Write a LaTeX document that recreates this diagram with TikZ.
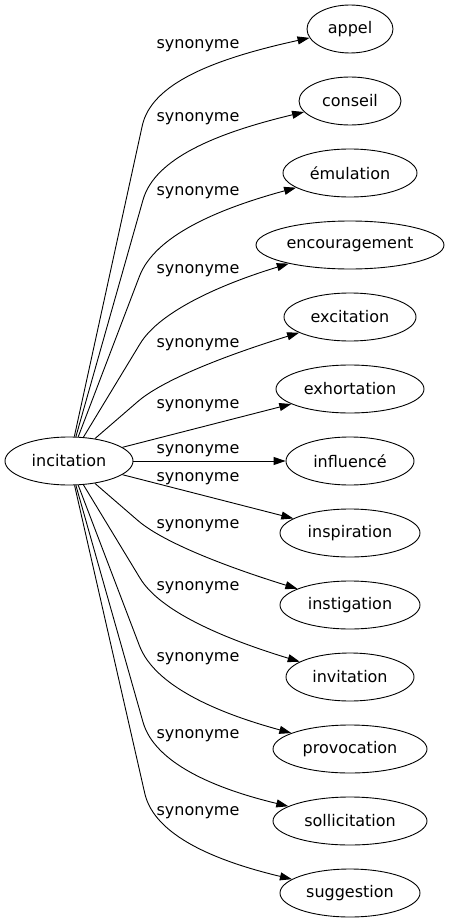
\documentclass[tikz,border=0pt]{standalone}
\usepackage{fontspec}
\setmainfont{DejaVu Sans}
\usetikzlibrary{shapes.geometric,arrows.meta,calc}

\begin{document}
\begin{tikzpicture}
            [x=1pt,y=-1pt,line width=0.9pt,
             word/.style={ellipse,draw,minimum height=48pt,inner sep=0pt},
             syn/.style={inner sep=0pt},
             edge/.style={-{Triangle[length=12pt,width=8pt]}},
             font=\fontsize{16}{19}\selectfont]
            \useasboundingbox (0,0) rectangle (449,923);
            \node[word,minimum width=128pt] (inc) at (69,461) {incitation};
            \node[word,minimum width=86pt] (appel) at (350,29) {appel};
            \node[word,minimum width=102pt] (cons) at (350,101) {conseil};
            \node[word,minimum width=134pt] (emul) at (350,173) {émulation};
            \node[word,minimum width=188pt] (enc) at (350,245) {encouragement};
            \node[word,minimum width=132pt] (exc) at (350,317) {excitation};
            \node[word,minimum width=148pt] (exh) at (350,389) {exhortation};
            \node[word,minimum width=128pt] (infl) at (350,461) {influencé};
            \node[word,minimum width=140pt] (insp) at (350,533) {inspiration};
            \node[word,minimum width=140pt] (inst) at (350,605) {instigation};
            \node[word,minimum width=128pt] (inv) at (350,677) {invitation};
            \node[word,minimum width=154pt] (prov) at (350,749) {provocation};
            \node[word,minimum width=154pt] (soll) at (350,821) {sollicitation};
            \node[word,minimum width=140pt] (sugg) at (350,893) {suggestion};
            % the labels
            \node[syn] (l1) at (198,46) {synonyme};
            \node[syn] (l2) at (198,119) {synonyme};
            \node[syn] (l3) at (198,193) {synonyme};
            \node[syn] (l4) at (198,271) {synonyme};
            \node[syn] (l5) at (198,345) {synonyme};
            \node[syn] (l6) at (198,406) {synonyme};
            \node[syn] (l7) at (198,451) {synonyme};
            \node[syn] (l8) at (198,479) {synonyme};
            \node[syn] (l9) at (198,526) {synonyme};
            \node[syn] (l10) at (198,588) {synonyme};
            \node[syn] (l11) at (198,659) {synonyme};
            \node[syn] (l12) at (198,736) {synonyme};
            \node[syn] (l13) at (198,813) {synonyme};
            % bends of the edges
            \coordinate (k1) at (154,72);
            \coordinate (k2) at (158,147);
            \coordinate (k3) at (159,225);
            \coordinate (k4) at (166,301);
            \coordinate (k5) at (172,372);
            \coordinate (k9) at (172,550);
            \coordinate (k10) at (166,621);
            \coordinate (k11) at (159,697);
            \coordinate (k12) at (158,775);
            \coordinate (k13) at (157,847);
            % the edges
            \draw[edge] (inc) -- ($(k1)!55pt!(inc)$) .. controls ($(k1)!12pt!(inc)$) and ($(k1)!0.3!(appel)$) .. (appel);
            \draw[edge] (inc) -- ($(k2)!55pt!(inc)$) .. controls ($(k2)!12pt!(inc)$) and ($(k2)!0.3!(cons)$) .. (cons);
            \draw[edge] (inc) -- ($(k3)!55pt!(inc)$) .. controls ($(k3)!12pt!(inc)$) and ($(k3)!0.3!(emul)$) .. (emul);
            \draw[edge] (inc) -- ($(k4)!50pt!(inc)$) .. controls ($(k4)!12pt!(inc)$) and ($(k4)!0.3!(enc)$) .. (enc);
            \draw[edge] (inc) -- ($(k5)!45pt!(inc)$) .. controls ($(k5)!12pt!(inc)$) and ($(k5)!0.3!(exc)$) .. (exc);
            \draw[edge] (inc) -- (exh);
            \draw[edge] (inc) -- (infl);
            \draw[edge] (inc) -- (insp);
            \draw[edge] (inc) -- ($(k9)!45pt!(inc)$) .. controls ($(k9)!12pt!(inc)$) and ($(k9)!0.3!(inst)$) .. (inst);
            \draw[edge] (inc) -- ($(k10)!50pt!(inc)$) .. controls ($(k10)!12pt!(inc)$) and ($(k10)!0.3!(inv)$) .. (inv);
            \draw[edge] (inc) -- ($(k11)!55pt!(inc)$) .. controls ($(k11)!12pt!(inc)$) and ($(k11)!0.3!(prov)$) .. (prov);
            \draw[edge] (inc) -- ($(k12)!55pt!(inc)$) .. controls ($(k12)!12pt!(inc)$) and ($(k12)!0.3!(soll)$) .. (soll);
            \draw[edge] (inc) -- ($(k13)!55pt!(inc)$) .. controls ($(k13)!12pt!(inc)$) and ($(k13)!0.3!(sugg)$) .. (sugg);
        \end{tikzpicture}
\end{document}
